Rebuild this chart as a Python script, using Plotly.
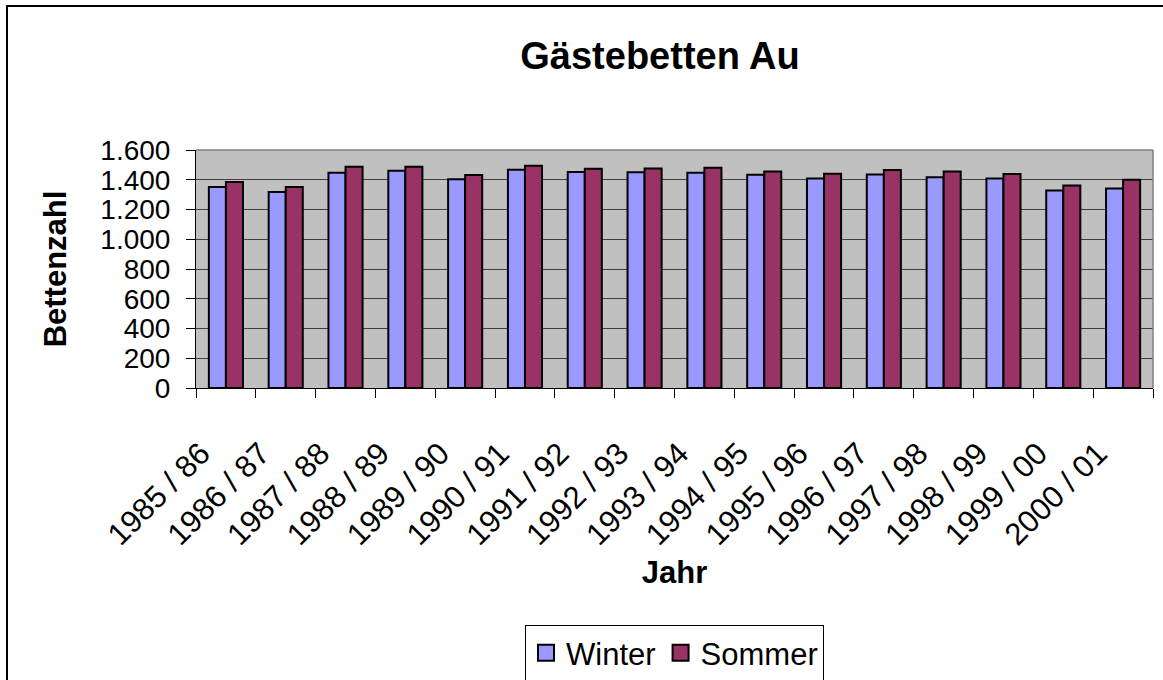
import plotly.graph_objects as go

categories = ["1985 / 86", "1986 / 87", "1987 / 88", "1988 / 89", "1989 / 90",
              "1990 / 91", "1991 / 92", "1992 / 93", "1993 / 94", "1994 / 95",
              "1995 / 96", "1996 / 97", "1997 / 98", "1998 / 99", "1999 / 00",
              "2000 / 01"]
winter = [1351, 1317, 1447, 1461, 1403, 1468, 1452, 1450, 1447, 1434,
          1409, 1436, 1416, 1409, 1328, 1342]
sommer = [1385, 1351, 1488, 1488, 1432, 1494, 1474, 1476, 1481, 1456,
          1441, 1465, 1456, 1438, 1362, 1400]
y_tickvals = [0, 200, 400, 600, 800, 1000, 1200, 1400, 1600]
y_ticktext = ["0", "200", "400", "600", "800", "1.000", "1.200", "1.400", "1.600"]

FONT = "Liberation Sans, Arial, sans-serif"
WINTER_COLOR = "#9999FF"
SOMMER_COLOR = "#993366"

fig = go.Figure()
fig.add_trace(go.Bar(x=categories, y=winter, name="Winter", showlegend=False,
                     marker=dict(color=WINTER_COLOR, line=dict(color="black", width=2))))
fig.add_trace(go.Bar(x=categories, y=sommer, name="Sommer", showlegend=False,
                     marker=dict(color=SOMMER_COLOR, line=dict(color="black", width=2))))
# legend entries with larger square swatches
for nm, col in (("Winter", WINTER_COLOR), ("Sommer", SOMMER_COLOR)):
    fig.add_trace(go.Scatter(x=[None], y=[None], mode="markers", name=nm,
                             marker=dict(symbol="square", size=20, color=col,
                                         line=dict(color="black", width=2))))

W, H = 1163, 680
L, R, T, B = 196, 1153, 150, 388
pw, ph = R - L, B - T

fig.update_layout(
    width=W, height=H,
    margin=dict(l=L, r=W - R, t=T, b=H - B, autoexpand=False),
    paper_bgcolor="white",
    plot_bgcolor="#C0C0C0",
    font=dict(family=FONT, size=31, color="black"),
    barmode="group",
    bargap=0.43,
    bargroupgap=0,
    title=dict(text="<b>Gästebetten Au</b>", font=dict(size=38, family=FONT),
               x=(660 - L) / pw, xref="paper", xanchor="center",
               y=1 - 56 / H, yref="container", yanchor="middle"),
    showlegend=True,
    legend=dict(orientation="h", x=0.5, xanchor="center", y=(B - 625) / ph, yanchor="top",
                bordercolor="black", borderwidth=1, bgcolor="white",
                font=dict(size=31, family=FONT), traceorder="normal",
                itemsizing="trace", tracegroupgap=0),
    xaxis=dict(
        type="category",
        tickangle=-45,
        tickson="boundaries",
        ticks="outside", ticklen=9, tickcolor="black",
        ticklabelstandoff=34, ticklabelshift=-25,
        showline=True, linecolor="black", linewidth=1,
        showgrid=False,
        tickfont=dict(size=31, family=FONT),
        title=dict(text="<b>Jahr</b>", font=dict(size=31, family=FONT), standoff=10),
        range=[-0.5, len(categories) - 0.5],
    ),
    yaxis=dict(
        range=[0, 1600],
        tickvals=y_tickvals, ticktext=y_ticktext,
        ticks="outside", ticklen=9, tickcolor="black",
        ticklabelstandoff=10,
        showline=True, linecolor="black", linewidth=1,
        showgrid=True, gridcolor="#404040", gridwidth=1,
        zeroline=False,
        tickfont=dict(size=28, family=FONT),
        title=dict(text="<b>Bettenzahl</b>", font=dict(size=31, family=FONT), standoff=24),
    ),
    shapes=[
        dict(type="line", xref="paper", yref="paper", x0=0, x1=1, y0=1, y1=1,
             line=dict(color="#808080", width=1.5)),
        dict(type="line", xref="paper", yref="paper", x0=1, x1=1, y0=0, y1=1,
             line=dict(color="#808080", width=1.5)),
        dict(type="rect", xref="paper", yref="paper",
             x0=(7 - L) / pw, x1=(1175 - L) / pw,
             y0=(B - 700) / ph, y1=1 + (T - 6) / ph,
             line=dict(color="black", width=2), layer="below"),
    ],
)

fig.write_html("out.html", config={"displayModeBar": False},
               post_script="document.body.style.margin='0';document.body.style.overflow='hidden';")
